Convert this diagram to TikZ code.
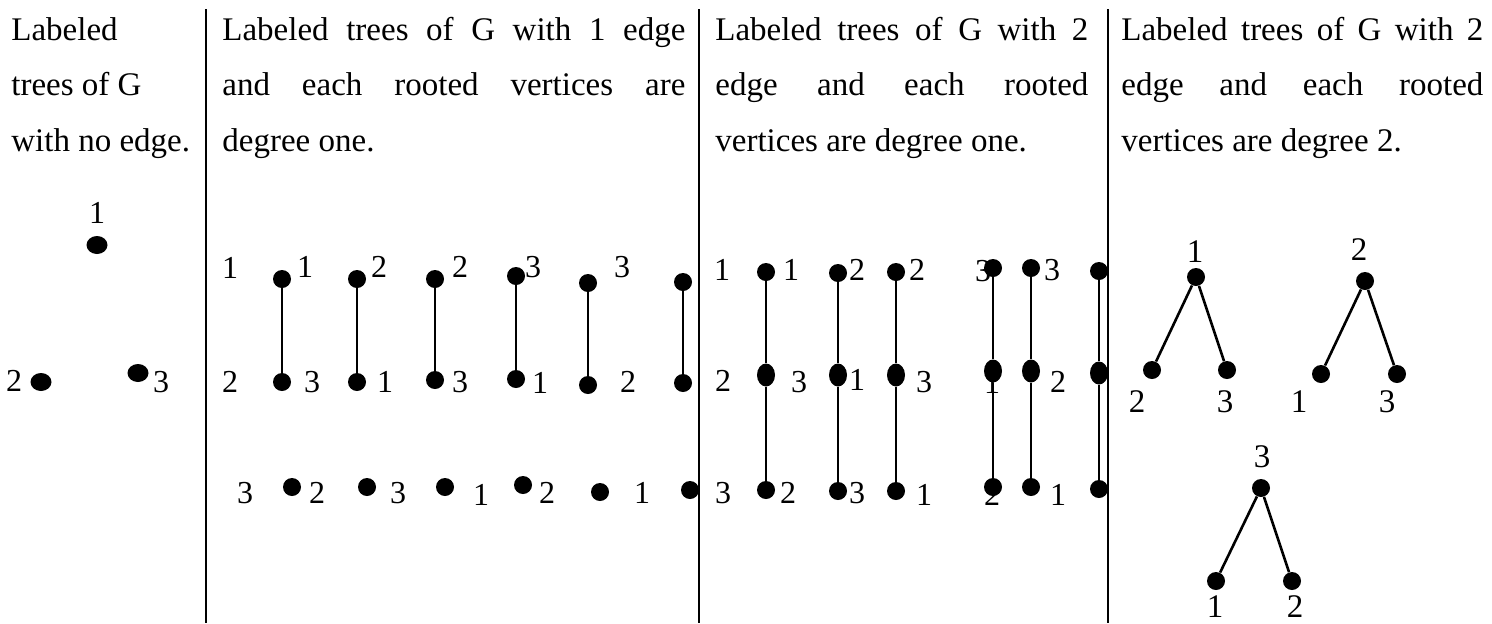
\documentclass[tikz,border=0pt]{standalone}
\usepackage{fontspec}
\setmainfont{Liberation Serif}
\usetikzlibrary{shapes.geometric}
\begin{document}
\begin{tikzpicture}[x=0.5pt,y=-0.5pt,
  hd/.style={font=\fontsize{16.5}{20}\selectfont, inner sep=0pt, anchor=base west},
  lab/.style={font=\fontsize{16}{18}\selectfont, inner sep=0pt},
  labb/.style={font=\fontsize{16.5}{18}\selectfont, inner sep=0pt},
  vdot/.style={circle, fill=black, inner sep=0pt, minimum size=9pt},
  odot/.style={ellipse, fill=black, inner sep=0pt, minimum width=10.5pt, minimum height=9pt},
  tdot/.style={ellipse, fill=black, inner sep=0pt, minimum width=9pt, minimum height=11.5pt},
  edge/.style={line width=1.3pt},
  rule/.style={line width=1.2pt}]
\useasboundingbox (0,0) rectangle (1492,623);

% column rules
\coordinate (r1t) at (206,9);   \coordinate (r1b) at (206,623);
\coordinate (r2t) at (699,9);   \coordinate (r2b) at (699,623);
\coordinate (r3t) at (1108,9);  \coordinate (r3b) at (1108,623);
\draw[rule] (r1t) -- (r1b);
\draw[rule] (r2t) -- (r2b);
\draw[rule] (r3t) -- (r3b);

% headers
\node[hd] (h1a) at (11,40)  {Labeled};
\node[hd] (h1b) at (11,95)  {trees of G};
\node[hd] (h1c) at (11,151) {with no edge.};

\node[hd] (h2a) at (222,40)  {\makebox[231.5pt][s]{Labeled trees of G with 1 edge}};
\node[hd] (h2b) at (222,95)  {\makebox[231.5pt][s]{and each rooted vertices are}};
\node[hd] (h2c) at (222,151) {degree one.};

\node[hd] (h3a) at (715,40)  {\makebox[186.5pt][s]{Labeled trees of G with 2}};
\node[hd] (h3b) at (715,95)  {\makebox[186.5pt][s]{edge and each rooted}};
\node[hd] (h3c) at (715,151) {vertices are degree one.};

\node[hd] (h4a) at (1121,40)  {\makebox[181pt][s]{Labeled trees of G with 2}};
\node[hd] (h4b) at (1121,95)  {\makebox[181pt][s]{edge and each rooted}};
\node[hd] (h4c) at (1121,151) {vertices are degree 2.};

% ---------- column 1 ----------
\node[lab] (l1a) at (97,213) {1};
\node[odot] (d1a) at (97,245) {};
\node[lab] (l1b) at (14,381) {2};
\node[odot] (d1b) at (41,382) {};
\node[odot] (d1c) at (138,373) {};
\node[lab] (l1c) at (161,382) {3};

% ---------- column 2 ----------
\node[lab] (k2r1) at (230,268) {1};
\node[lab] (k2r2) at (230,382) {2};
\node[lab] (k2r3) at (245,493) {3};
% pair a
\node[lab] (l2a1) at (305,267) {1};
\node[lab] (l2a2) at (312,382) {3};
\node[lab] (l2a3) at (317,493) {2};
\node[vdot] (c2a1) at (282,279) {};
\node[vdot] (c2a2) at (282,382) {};
\node[vdot] (c2a3) at (292,487) {};
% pair b
\node[lab] (l2b1) at (379,267) {2};
\node[lab] (l2b2) at (385,382) {1};
\node[lab] (l2b3) at (398,493) {3};
\node[vdot] (c2b1) at (357,279) {};
\node[vdot] (c2b2) at (357,382) {};
\node[vdot] (c2b3) at (367,487) {};
% pair c
\node[lab] (l2c1) at (460,267) {2};
\node[lab] (l2c2) at (460,382) {3};
\node[lab] (l2c3) at (481,495) {1};
\node[vdot] (c2c1) at (435,279) {};
\node[vdot] (c2c2) at (435,380) {};
\node[vdot] (c2c3) at (445,487) {};
% pair d
\node[lab] (l2d1) at (533,267) {3};
\node[lab] (l2d2) at (540,383) {1};
\node[lab] (l2d3) at (547,493) {2};
\node[vdot] (c2d1) at (516,276) {};
\node[vdot] (c2d2) at (516,379) {};
\node[vdot] (c2d3) at (523,485) {};
% pair e
\node[lab] (l2e1) at (622,267) {3};
\node[lab] (l2e2) at (628,382) {2};
\node[lab] (l2e3) at (642,493) {1};
\node[vdot] (c2e1) at (588,283) {};
\node[vdot] (c2e2) at (588,385) {};
\node[vdot] (c2e3) at (600,492) {};
% pair f
\node[vdot] (c2f1) at (683,282) {};
\node[vdot] (c2f2) at (683,383) {};
\node[vdot] (c2f3) at (690,490) {};
\foreach \p in {a,b,c,d,e,f}{\draw[edge] (c2\p1) -- (c2\p2);}

% ---------- column 3 ----------
\node[lab] (k3r1) at (722,270) {1};
\node[lab] (k3r2) at (723,381) {2};
\node[lab] (k3r3) at (723,493) {3};
\node[lab] (l3a1) at (791,270) {1};
\node[lab] (l3a2) at (799,382) {3};
\node[lab] (l3a3) at (788,493) {2};
\node[lab] (l3b1) at (857,270) {2};
\node[lab] (l3b2) at (857,380) {1};
\node[lab] (l3b3) at (857,493) {3};
\node[lab] (l3c1) at (917,270) {2};
\node[lab] (l3c2) at (924,382) {3};
\node[lab] (l3c3) at (924,495) {1};
\node[lab] (l3d1) at (983,271) {3};
\node[lab] (l3d2) at (992,383) {1};
\node[lab] (l3d3) at (992,495) {2};
\node[lab] (l3e1) at (1052,270) {3};
\node[lab] (l3e2) at (1058,382) {2};
\node[lab] (l3e3) at (1058,495) {1};

\node[vdot] (c3a1) at (766,272) {};
\node[tdot] (c3a2) at (766,375) {};
\node[vdot] (c3a3) at (766,490) {};
\node[vdot] (c3b1) at (838,273) {};
\node[tdot] (c3b2) at (838,375) {};
\node[vdot] (c3b3) at (838,491) {};
\node[vdot] (c3c1) at (896,272) {};
\node[tdot] (c3c2) at (896,375) {};
\node[vdot] (c3c3) at (896,491) {};
\node[vdot] (c3d1) at (993,268) {};
\node[tdot] (c3d2) at (993,371) {};
\node[vdot] (c3d3) at (993,487) {};
\node[vdot] (c3e1) at (1031,268) {};
\node[tdot] (c3e2) at (1031,371) {};
\node[vdot] (c3e3) at (1031,487) {};
\node[vdot] (c3f1) at (1099,271) {};
\node[tdot] (c3f2) at (1099,373) {};
\node[vdot] (c3f3) at (1099,489) {};
\foreach \p in {a,b,c,d,e,f}{
  \draw[edge] (c3\p1) -- (c3\p2);
  \draw[edge] (c3\p2) -- (c3\p3);
}

% ---------- column 4 ----------
% tree 1
\node[labb] (l4a0) at (1195,252) {1};
\node[labb] (l4a1) at (1137,402) {2};
\node[labb] (l4a2) at (1225,402) {3};
\node[vdot] (t4a0) at (1196,277) {};
\node[vdot] (t4a1) at (1152,370) {};
\node[vdot] (t4a2) at (1227,370) {};
% tree 2
\node[labb] (l4b0) at (1359,250) {2};
\node[labb] (l4b1) at (1299,402) {1};
\node[labb] (l4b2) at (1387,402) {3};
\node[vdot] (t4b0) at (1365,281) {};
\node[vdot] (t4b1) at (1321,374) {};
\node[vdot] (t4b2) at (1397,374) {};
% tree 3
\node[labb] (l4c0) at (1262,457) {3};
\node[labb] (l4c1) at (1215,607) {1};
\node[labb] (l4c2) at (1295,607) {2};
\node[vdot] (t4c0) at (1261,488) {};
\node[vdot] (t4c1) at (1216,581) {};
\node[vdot] (t4c2) at (1292,581) {};
\foreach \t in {a,b,c}{
  \draw[edge] (t4\t0) -- (t4\t1);
  \draw[edge] (t4\t0) -- (t4\t2);
}
\end{tikzpicture}
\end{document}
